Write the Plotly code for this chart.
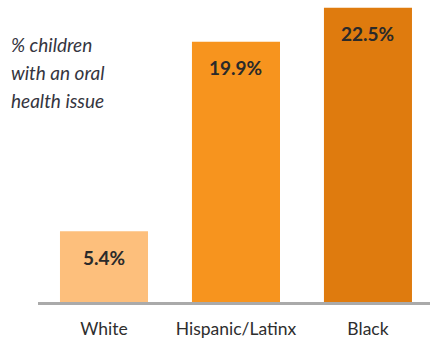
import plotly.graph_objects as go

categories = ["White", "Hispanic/Latinx", "Black"]
values = [5.4, 19.9, 22.5]
value_labels = ["5.4%", "19.9%", "22.5%"]
bar_colors = ["#FDBF7C", "#F7941E", "#DF7B0E"]
note_lines = ["% children", "with an oral", "health issue"]

fig = go.Figure()
fig.add_trace(go.Bar(
    x=categories, y=values,
    marker=dict(color=bar_colors, line=dict(width=0)),
    hoverinfo="skip",
))

for c, v, lab in zip(categories, values, value_labels):
    fig.add_annotation(x=c, y=v, text="<b>" + lab + "</b>", showarrow=False,
                       yanchor="middle", yshift=-26,
                       font=dict(family="Lato", size=19, color="#2a2a2a"))

for i, line in enumerate(note_lines):
    yc = 45 + 27.5 * i
    fig.add_annotation(xref="paper", yref="paper", x=-38 / 392 + 9 / 392, y=1 - yc / 302,
                       xanchor="left", yanchor="middle",
                       text="<i>" + line + "</i>", showarrow=False, align="left",
                       font=dict(family="Lato", size=19, color="#353540"))

fig.update_layout(
    width=430, height=341,
    margin=dict(l=38, r=0, t=0, b=39),
    paper_bgcolor="white", plot_bgcolor="white",
    bargap=0.333,
    showlegend=False,
    xaxis=dict(range=[-0.5, 2.47], showline=True, linecolor="#AAAAAA", linewidth=2.5,
               ticks="", tickfont=dict(family="Lato", size=17.5, color="#2e2e2e"),
               ticklabelstandoff=9,
               showgrid=False, zeroline=False),
    yaxis=dict(range=[0, 23.09], visible=False, showgrid=False, zeroline=False),
)

fig.write_html("out.html", config={"displayModeBar": False},
               post_script="document.body.style.margin='0px';document.body.style.overflow='hidden';")
